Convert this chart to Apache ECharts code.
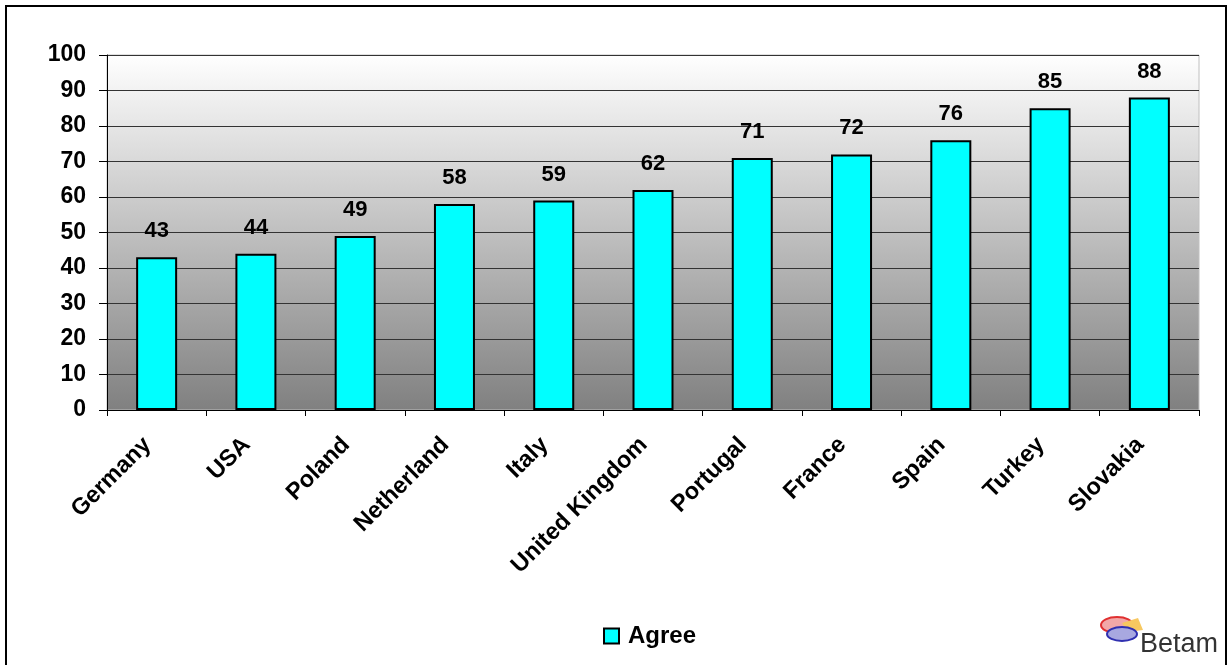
<!DOCTYPE html>
<html>
<head>
<meta charset="utf-8">
<script src="https://cdn.jsdelivr.net/npm/echarts@6/dist/echarts.min.js"></script>
<style>
  html, body { margin: 0; padding: 0; background: #fff; }
  #chart { width: 1228px; height: 665px; }
</style>
</head>
<body>
<div id="chart"></div>
<script>
// Share of respondents who agree, by country
const countries = ['Germany', 'USA', 'Poland', 'Netherland', 'Italy', 'United Kingdom',
                   'Portugal', 'France', 'Spain', 'Turkey', 'Slovakia'];
const agree = [43, 44, 49, 58, 59, 62, 71, 72, 76, 85, 88];
const yTicks = [0, 10, 20, 30, 40, 50, 60, 70, 80, 90, 100];
const seriesName = 'Agree';

const chart = echarts.init(document.getElementById('chart'));
const font = '"Liberation Sans", Arial, sans-serif';

chart.setOption({
  animation: false,
  backgroundColor: '#fff',
  grid: {
    left: 107, right: 29, top: 55, bottom: 255,
    show: true,
    borderWidth: 1,
    borderColor: '#c0c0c0',
    backgroundColor: new echarts.graphic.LinearGradient(0, 0, 0, 1, [
      { offset: 0, color: '#ffffff' },
      { offset: 1, color: '#808080' }
    ])
  },
  legend: {
    data: [{ name: seriesName, icon: 'rect' }],
    left: 598, top: 619,
    itemWidth: 15, itemHeight: 15,
    itemGap: 6,
    textStyle: { fontFamily: font, fontWeight: 'bold', fontSize: 24, color: '#000', padding: [0, 0, 0, 4] },
    itemStyle: { borderColor: '#000', borderWidth: 2 }
  },
  xAxis: {
    type: 'category',
    data: countries,
    axisLine: { show: true, lineStyle: { color: '#000', width: 1 } },
    axisTick: { show: true, alignWithLabel: false, length: 6, lineStyle: { color: '#000' } },
    axisLabel: {
      rotate: 45, interval: 0, margin: 22,
      padding: [0, 13, 0, 0],
      fontFamily: font, fontWeight: 'bold', fontSize: 23.5, color: '#000'
    },
    splitLine: { show: false }
  },
  yAxis: {
    type: 'value',
    min: yTicks[0], max: yTicks[yTicks.length - 1], interval: 10,
    axisLine: { show: true, lineStyle: { color: '#000', width: 1 } },
    axisTick: { show: true, length: 8, lineStyle: { color: '#000' } },
    axisLabel: {
      margin: 21,
      fontFamily: font, fontWeight: 'bold', fontSize: 23, color: '#000'
    },
    splitLine: { show: true, lineStyle: { color: '#333', width: 1 } }
  },
  series: [{
    name: seriesName,
    type: 'bar',
    data: agree,
    barWidth: 41,
    itemStyle: { color: '#00ffff', borderColor: '#000', borderWidth: 2 },
    label: {
      show: true, position: 'top', distance: 15,
      fontFamily: font, fontWeight: 'bold', fontSize: 22, color: '#000'
    }
  }],
  graphic: [
    // outer frame
    {
      type: 'rect', silent: true, z: 100,
      shape: { x: 6, y: 6, width: 1220, height: 680 },
      style: { fill: 'none', stroke: '#000', lineWidth: 2 }
    },
    // Betam logo
    {
      type: 'group', left: 1100, top: 616, z: 100,
      children: [
        { type: 'ellipse', shape: { cx: 17, cy: 11, rx: 16, ry: 8 },
          style: { fill: '#f2a8a8', stroke: '#e03030', lineWidth: 2 } },
        { type: 'polygon', shape: { points: [[22, 9], [38, 4], [43, 16], [28, 18]] },
          style: { fill: '#f7c860' } },
        { type: 'ellipse', shape: { cx: 22, cy: 20, rx: 15, ry: 7 },
          style: { fill: '#a8a8e0', stroke: '#3030b0', lineWidth: 2 } },
        { type: 'text', x: 40, y: 17,
          style: { text: 'Betam', fontFamily: font, fontSize: 27, fill: '#333' } }
      ]
    }
  ]
});
</script>
</body>
</html>
